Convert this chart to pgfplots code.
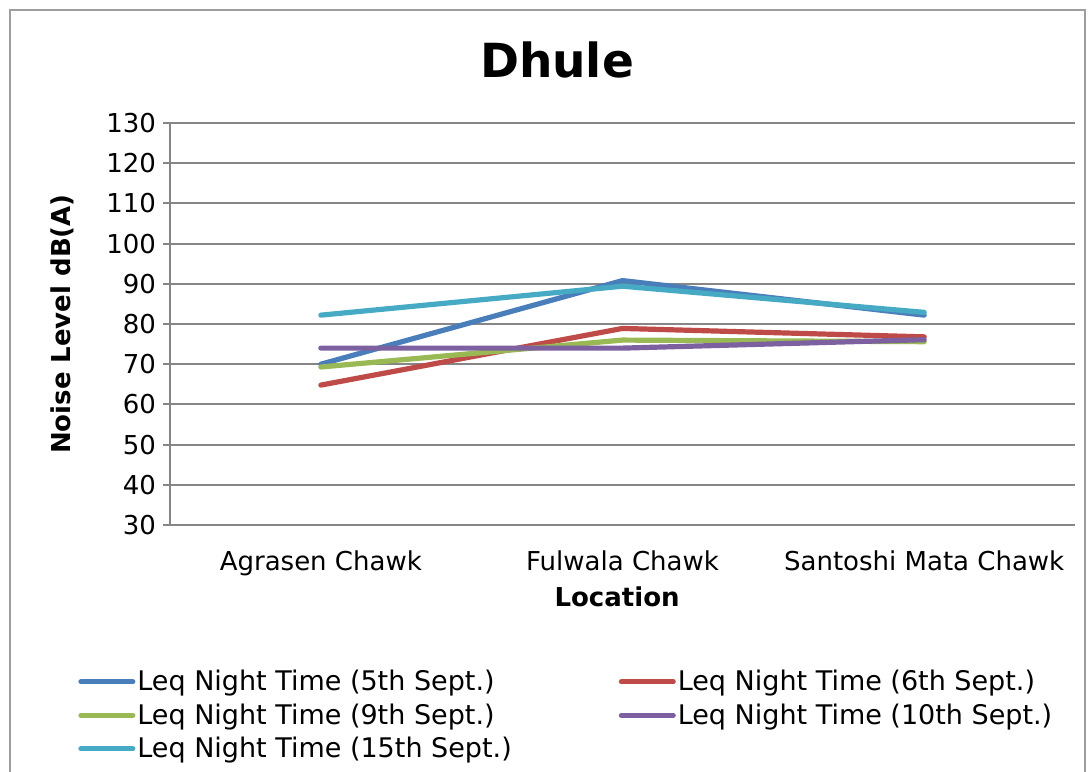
\documentclass[border=0pt]{standalone}
\usepackage{pgfplots}
\pgfplotsset{compat=1.18}
\usepackage{fontspec}
\setmainfont{DejaVu Sans}
\definecolor{cblue}{HTML}{4A7EBB}
\definecolor{cred}{HTML}{BE4B48}
\definecolor{cgreen}{HTML}{98B954}
\definecolor{cpurple}{HTML}{7D60A0}
\definecolor{ccyan}{HTML}{46AAC5}
\definecolor{gridgray}{HTML}{868686}
\begin{document}
\begin{tikzpicture}
\useasboundingbox (0,0) rectangle (545pt,385.5pt);
\draw[gridgray!80, line width=1pt] (5pt,-2pt) -- (5pt,380.5pt) -- (542.5pt,380.5pt) -- (542.5pt,-2pt);
\begin{axis}[
  at={(85pt,123pt)}, anchor=south west,
  scale only axis, width=452.5pt, height=201pt,
  xmin=-0.5, xmax=2.5, ymin=30, ymax=130,
  ytick={30,40,...,130},
  xtick={0,1,2},
  xticklabels={Agrasen Chawk, Fulwala Chawk, Santoshi Mata Chawk},
  minor xtick={-0.5,0.5,1.5,2.5},
  xtick style={draw=none},
  minor tick length=3.5pt,
  major tick length=3.5pt,
  tick align=outside,
  axis lines*=left,
  axis line style={gridgray, line width=1pt},
  every tick/.style={gridgray, line width=1pt},
  ymajorgrids, grid style={gridgray, line width=1pt},
  tick label style={font=\fontsize{13}{15}\selectfont},
  /pgf/number format/assume math mode=true,
  xticklabel style={yshift=-6pt},
  title={Dhule},
  title style={font=\fontsize{23.5}{28}\selectfont\bfseries, at={(0.4276,1.127)}, anchor=center},
  ylabel={Noise Level dB(A)},
  ylabel style={font=\fontsize{13}{15}\selectfont\bfseries, at={(axis description cs:-0.119,0.5)}, anchor=center},
  xlabel={Location},
  xlabel style={font=\fontsize{13}{15}\selectfont\bfseries, at={(axis description cs:0.494,-0.179)}, anchor=center},
  legend columns=2,
  legend cell align=left,
  legend style={at={(axis description cs:-0.1017,-0.355)}, anchor=north west, draw=none, fill=none,
    font=\fontsize{13.5}{15}\selectfont, inner sep=0pt, row sep=3pt,
    /tikz/every even column/.append style={column sep=52.5pt},
    nodes={inner xsep=1pt, inner ysep=1pt}},
  legend image post style={line width=2.5pt},
  legend image code/.code={\draw[#1, line cap=round] (0pt,0pt) -- (26pt,0pt);},
  every axis plot/.append style={line width=2.6pt, line cap=round, line join=round},
  clip=false,
]
\addplot[cblue] coordinates {(0,70) (1,90.8) (2,82.2)};
\addlegendentry{Leq Night Time (5th Sept.)}
\addplot[cred] coordinates {(0,64.8) (1,78.9) (2,76.8)};
\addlegendentry{Leq Night Time (6th Sept.)}
\addplot[cgreen] coordinates {(0,69.3) (1,76) (2,75.6)};
\addlegendentry{Leq Night Time (9th Sept.)}
\addplot[cpurple] coordinates {(0,74) (1,74) (2,76.1)};
\addlegendentry{Leq Night Time (10th Sept.)}
\addplot[ccyan] coordinates {(0,82.2) (1,89.4) (2,82.9)};
\addlegendentry{Leq Night Time (15th Sept.)}
\end{axis}
\end{tikzpicture}
\end{document}
